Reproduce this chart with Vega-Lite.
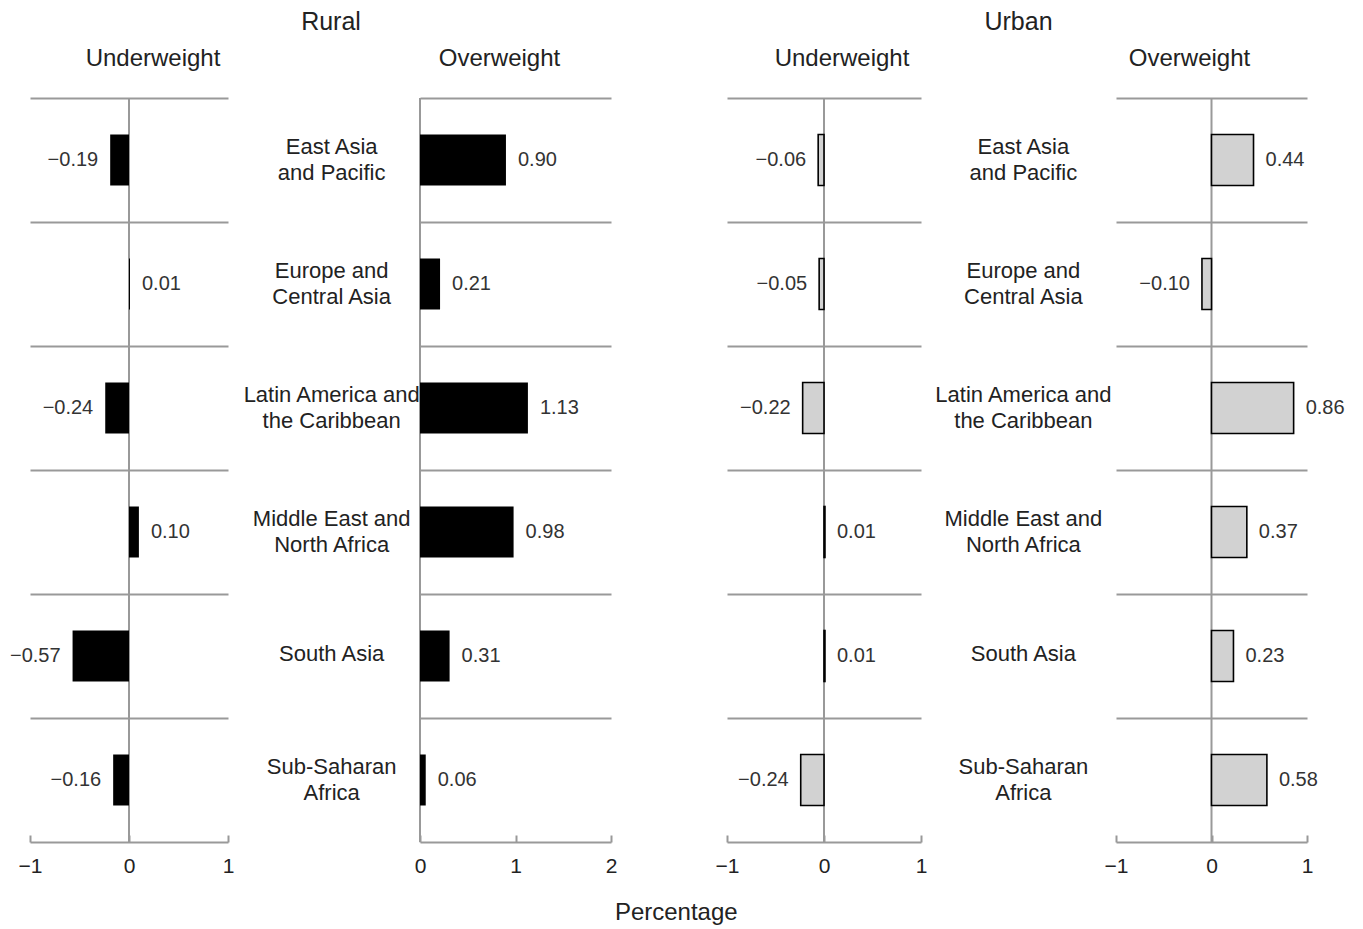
{
  "$schema": "https://vega.github.io/schema/vega-lite/v6.json",
  "padding": {"left": 9, "top": 10, "right": 10, "bottom": 10},
  "background": "white",
  "config": {
    "font": "Liberation Sans",
    "view": {"stroke": null},
    "title": {"fontSize": 24, "fontWeight": "normal", "color": "#222"},
    "axisX": {"labelFlush": false, "labelOverlap": false}
  },
  "datasets": {
    "d": [
      {"area": "Rural", "measure": "Underweight", "region": "East Asia|and Pacific", "value": -0.19},
      {"area": "Rural", "measure": "Underweight", "region": "Europe and|Central Asia", "value": 0.01},
      {"area": "Rural", "measure": "Underweight", "region": "Latin America and|the Caribbean", "value": -0.24},
      {"area": "Rural", "measure": "Underweight", "region": "Middle East and|North Africa", "value": 0.10},
      {"area": "Rural", "measure": "Underweight", "region": "South Asia", "value": -0.57},
      {"area": "Rural", "measure": "Underweight", "region": "Sub-Saharan|Africa", "value": -0.16},
      {"area": "Rural", "measure": "Overweight", "region": "East Asia|and Pacific", "value": 0.90},
      {"area": "Rural", "measure": "Overweight", "region": "Europe and|Central Asia", "value": 0.21},
      {"area": "Rural", "measure": "Overweight", "region": "Latin America and|the Caribbean", "value": 1.13},
      {"area": "Rural", "measure": "Overweight", "region": "Middle East and|North Africa", "value": 0.98},
      {"area": "Rural", "measure": "Overweight", "region": "South Asia", "value": 0.31},
      {"area": "Rural", "measure": "Overweight", "region": "Sub-Saharan|Africa", "value": 0.06},
      {"area": "Urban", "measure": "Underweight", "region": "East Asia|and Pacific", "value": -0.06},
      {"area": "Urban", "measure": "Underweight", "region": "Europe and|Central Asia", "value": -0.05},
      {"area": "Urban", "measure": "Underweight", "region": "Latin America and|the Caribbean", "value": -0.22},
      {"area": "Urban", "measure": "Underweight", "region": "Middle East and|North Africa", "value": 0.01},
      {"area": "Urban", "measure": "Underweight", "region": "South Asia", "value": 0.01},
      {"area": "Urban", "measure": "Underweight", "region": "Sub-Saharan|Africa", "value": -0.24},
      {"area": "Urban", "measure": "Overweight", "region": "East Asia|and Pacific", "value": 0.44},
      {"area": "Urban", "measure": "Overweight", "region": "Europe and|Central Asia", "value": -0.10},
      {"area": "Urban", "measure": "Overweight", "region": "Latin America and|the Caribbean", "value": 0.86},
      {"area": "Urban", "measure": "Overweight", "region": "Middle East and|North Africa", "value": 0.37},
      {"area": "Urban", "measure": "Overweight", "region": "South Asia", "value": 0.23},
      {"area": "Urban", "measure": "Overweight", "region": "Sub-Saharan|Africa", "value": 0.58}
    ],
    "regions": [
      {"region": "East Asia|and Pacific", "label": ["East Asia", "and Pacific"], "lines": 2},
      {"region": "Europe and|Central Asia", "label": ["Europe and", "Central Asia"], "lines": 2},
      {"region": "Latin America and|the Caribbean", "label": ["Latin America and", "the Caribbean"], "lines": 2},
      {"region": "Middle East and|North Africa", "label": ["Middle East and", "North Africa"], "lines": 2},
      {"region": "South Asia", "label": ["South Asia"], "lines": 1},
      {"region": "Sub-Saharan|Africa", "label": ["Sub-Saharan", "Africa"], "lines": 2}
    ]
  },
  "data": {"name": "d"},
  "title": {"text": "Percentage", "orient": "bottom", "anchor": "middle", "dx": -1, "offset": 25},
  "bounds": "flush",
  "spacing": 0,
  "hconcat": [
    {
      "width": 198, "height": 744,
      "title": {"text": "Underweight", "dx": 24, "offset": 26},
      "layer": [
        {"data": {"values": [{}]}, "mark": {"type": "rule", "color": "#999", "strokeWidth": 2}, "encoding": {"x": {"datum": 0, "type": "quantitative", "scale": {"domain": [-1, 1], "nice": false}}}},
        {
          "transform": [{"filter": "datum.area === 'Rural' && datum.measure === 'Underweight'"}],
          "mark": {"type": "bar", "color": "black", "size": 51},
          "encoding": {
            "y": {"field": "region", "type": "nominal", "sort": null, "scale": {"paddingInner": 0, "paddingOuter": 0},
              "axis": {"title": null, "labels": false, "ticks": false, "domain": false, "grid": true, "bandPosition": 0, "gridColor": "#999", "gridWidth": 2}},
            "x": {"field": "value", "type": "quantitative", "scale": {"domain": [-1, 1], "nice": false},
              "axis": {"title": null, "values": [-1, 0, 1], "format": ".0f", "grid": false, "domainColor": "#999", "domainWidth": 2, "tickColor": "#999", "tickWidth": 2, "tickSize": -7, "labelPadding": 20, "labelFontSize": 21, "labelColor": "#222"}}
          }
        },
        {
          "transform": [{"filter": "datum.area === 'Rural' && datum.measure === 'Underweight' && datum.value < 0"}],
          "mark": {"type": "text", "align": "right", "dx": -12, "fontSize": 20, "color": "#333"},
          "encoding": {"y": {"field": "region", "type": "nominal", "sort": null}, "x": {"field": "value", "type": "quantitative"}, "text": {"field": "value", "type": "quantitative", "format": ".2f"}}
        },
        {
          "transform": [{"filter": "datum.area === 'Rural' && datum.measure === 'Underweight' && datum.value >= 0"}],
          "mark": {"type": "text", "align": "left", "dx": 12, "fontSize": 20, "color": "#333"},
          "encoding": {"y": {"field": "region", "type": "nominal", "sort": null}, "x": {"field": "value", "type": "quantitative"}, "text": {"field": "value", "type": "quantitative", "format": ".2f"}}
        }
      ]
    },
    {
      "width": 192, "height": 744,
      "title": {"text": "Rural", "fontSize": 25, "dx": 7, "offset": 63},
      "data": {"name": "regions"},
      "encoding": {
        "y": {"field": "region", "type": "nominal", "sort": null, "scale": {"domain": ["East Asia|and Pacific", "Europe and|Central Asia", "Latin America and|the Caribbean", "Middle East and|North Africa", "South Asia", "Sub-Saharan|Africa"], "paddingInner": 0, "paddingOuter": 0}, "axis": null},
        "x": {"datum": 0.54, "type": "quantitative", "scale": {"domain": [0, 1]}, "axis": null},
        "text": {"field": "label"}
      },
      "layer": [
        {"transform": [{"filter": "datum.lines > 1"}], "mark": {"type": "text", "fontSize": 22, "lineHeight": 26, "color": "#222", "baseline": "middle", "dy": -13}},
        {"transform": [{"filter": "datum.lines === 1"}], "mark": {"type": "text", "fontSize": 22, "lineHeight": 26, "color": "#222", "baseline": "middle", "dy": -2}}
      ]
    },
    {
      "width": 191, "height": 744,
      "title": {"text": "Overweight", "dx": -16, "offset": 26},
      "layer": [
        {"data": {"values": [{}]}, "mark": {"type": "rule", "color": "#999", "strokeWidth": 2}, "encoding": {"x": {"datum": 0, "type": "quantitative", "scale": {"domain": [0, 2], "nice": false}}}},
        {
          "transform": [{"filter": "datum.area === 'Rural' && datum.measure === 'Overweight'"}],
          "mark": {"type": "bar", "color": "black", "size": 51},
          "encoding": {
            "y": {"field": "region", "type": "nominal", "sort": null, "scale": {"paddingInner": 0, "paddingOuter": 0},
              "axis": {"title": null, "labels": false, "ticks": false, "domain": false, "grid": true, "bandPosition": 0, "gridColor": "#999", "gridWidth": 2}},
            "x": {"field": "value", "type": "quantitative", "scale": {"domain": [0, 2], "nice": false},
              "axis": {"title": null, "values": [0, 1, 2], "format": ".0f", "grid": false, "domainColor": "#999", "domainWidth": 2, "tickColor": "#999", "tickWidth": 2, "tickSize": -7, "labelPadding": 20, "labelFontSize": 21, "labelColor": "#222"}}
          }
        },
        {
          "transform": [{"filter": "datum.area === 'Rural' && datum.measure === 'Overweight'"}],
          "mark": {"type": "text", "align": "left", "dx": 12, "fontSize": 20, "color": "#333"},
          "encoding": {"y": {"field": "region", "type": "nominal", "sort": null}, "x": {"field": "value", "type": "quantitative"}, "text": {"field": "value", "type": "quantitative", "format": ".2f"}}
        }
      ]
    },
    {
      "width": 116, "height": 744,
      "data": {"values": [{}]},
      "mark": {"type": "text", "text": ""},
      "encoding": {}
    },
    {
      "width": 194, "height": 744,
      "title": {"text": "Underweight", "dx": 18, "offset": 26},
      "layer": [
        {"data": {"values": [{}]}, "mark": {"type": "rule", "color": "#999", "strokeWidth": 2}, "encoding": {"x": {"datum": 0, "type": "quantitative", "scale": {"domain": [-1, 1], "nice": false}}}},
        {
          "transform": [{"filter": "datum.area === 'Urban' && datum.measure === 'Underweight'"}],
          "mark": {"type": "bar", "fill": "#d2d2d2", "stroke": "black", "strokeWidth": 1.6, "size": 51},
          "encoding": {
            "y": {"field": "region", "type": "nominal", "sort": null, "scale": {"paddingInner": 0, "paddingOuter": 0},
              "axis": {"title": null, "labels": false, "ticks": false, "domain": false, "grid": true, "bandPosition": 0, "gridColor": "#999", "gridWidth": 2}},
            "x": {"field": "value", "type": "quantitative", "scale": {"domain": [-1, 1], "nice": false},
              "axis": {"title": null, "values": [-1, 0, 1], "format": ".0f", "grid": false, "domainColor": "#999", "domainWidth": 2, "tickColor": "#999", "tickWidth": 2, "tickSize": -7, "labelPadding": 20, "labelFontSize": 21, "labelColor": "#222"}}
          }
        },
        {
          "transform": [{"filter": "datum.area === 'Urban' && datum.measure === 'Underweight' && datum.value < 0"}],
          "mark": {"type": "text", "align": "right", "dx": -12, "fontSize": 20, "color": "#333"},
          "encoding": {"y": {"field": "region", "type": "nominal", "sort": null}, "x": {"field": "value", "type": "quantitative"}, "text": {"field": "value", "type": "quantitative", "format": ".2f"}}
        },
        {
          "transform": [{"filter": "datum.area === 'Urban' && datum.measure === 'Underweight' && datum.value >= 0"}],
          "mark": {"type": "text", "align": "left", "dx": 12, "fontSize": 20, "color": "#333"},
          "encoding": {"y": {"field": "region", "type": "nominal", "sort": null}, "x": {"field": "value", "type": "quantitative"}, "text": {"field": "value", "type": "quantitative", "format": ".2f"}}
        }
      ]
    },
    {
      "width": 195, "height": 744,
      "title": {"text": "Urban", "fontSize": 25, "dx": 0, "offset": 63},
      "data": {"name": "regions"},
      "encoding": {
        "y": {"field": "region", "type": "nominal", "sort": null, "scale": {"domain": ["East Asia|and Pacific", "Europe and|Central Asia", "Latin America and|the Caribbean", "Middle East and|North Africa", "South Asia", "Sub-Saharan|Africa"], "paddingInner": 0, "paddingOuter": 0}, "axis": null},
        "x": {"datum": 0.525, "type": "quantitative", "scale": {"domain": [0, 1]}, "axis": null},
        "text": {"field": "label"}
      },
      "layer": [
        {"transform": [{"filter": "datum.lines > 1"}], "mark": {"type": "text", "fontSize": 22, "lineHeight": 26, "color": "#222", "baseline": "middle", "dy": -13}},
        {"transform": [{"filter": "datum.lines === 1"}], "mark": {"type": "text", "fontSize": 22, "lineHeight": 26, "color": "#222", "baseline": "middle", "dy": -2}}
      ]
    },
    {
      "width": 191, "height": 744,
      "title": {"text": "Overweight", "dx": -22, "offset": 26},
      "layer": [
        {"data": {"values": [{}]}, "mark": {"type": "rule", "color": "#999", "strokeWidth": 2}, "encoding": {"x": {"datum": 0, "type": "quantitative", "scale": {"domain": [-1, 1], "nice": false}}}},
        {
          "transform": [{"filter": "datum.area === 'Urban' && datum.measure === 'Overweight'"}],
          "mark": {"type": "bar", "fill": "#d2d2d2", "stroke": "black", "strokeWidth": 1.6, "size": 51},
          "encoding": {
            "y": {"field": "region", "type": "nominal", "sort": null, "scale": {"paddingInner": 0, "paddingOuter": 0},
              "axis": {"title": null, "labels": false, "ticks": false, "domain": false, "grid": true, "bandPosition": 0, "gridColor": "#999", "gridWidth": 2}},
            "x": {"field": "value", "type": "quantitative", "scale": {"domain": [-1, 1], "nice": false},
              "axis": {"title": null, "values": [-1, 0, 1], "format": ".0f", "grid": false, "domainColor": "#999", "domainWidth": 2, "tickColor": "#999", "tickWidth": 2, "tickSize": -7, "labelPadding": 20, "labelFontSize": 21, "labelColor": "#222"}}
          }
        },
        {
          "transform": [{"filter": "datum.area === 'Urban' && datum.measure === 'Overweight' && datum.value < 0"}],
          "mark": {"type": "text", "align": "right", "dx": -12, "fontSize": 20, "color": "#333"},
          "encoding": {"y": {"field": "region", "type": "nominal", "sort": null}, "x": {"field": "value", "type": "quantitative"}, "text": {"field": "value", "type": "quantitative", "format": ".2f"}}
        },
        {
          "transform": [{"filter": "datum.area === 'Urban' && datum.measure === 'Overweight' && datum.value >= 0"}],
          "mark": {"type": "text", "align": "left", "dx": 12, "fontSize": 20, "color": "#333"},
          "encoding": {"y": {"field": "region", "type": "nominal", "sort": null}, "x": {"field": "value", "type": "quantitative"}, "text": {"field": "value", "type": "quantitative", "format": ".2f"}}
        }
      ]
    }
  ]
}
